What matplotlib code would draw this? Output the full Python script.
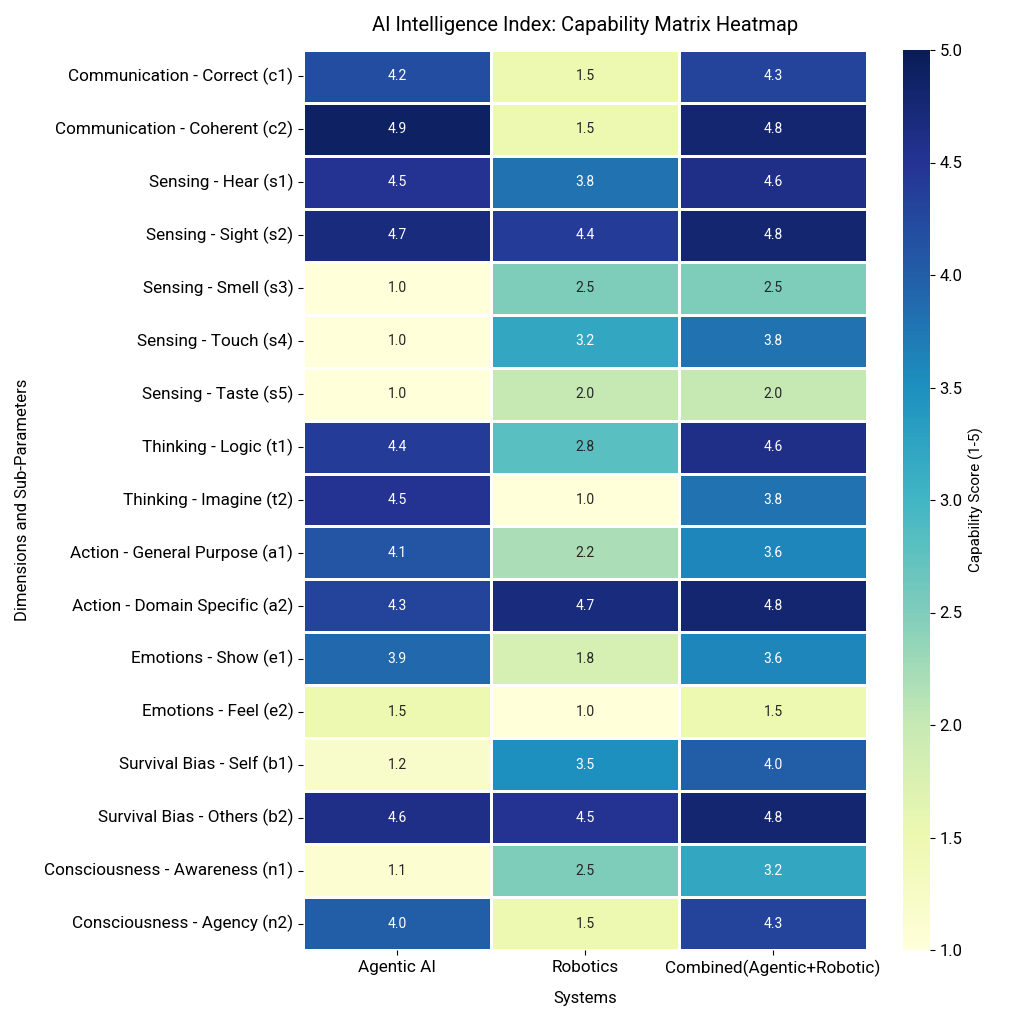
import matplotlib
matplotlib.use("Agg")
import matplotlib.pyplot as plt
import numpy as np
import seaborn as sns

plt.rcParams['font.family'] = ['Roboto', 'DejaVu Sans']

rows = [
    "Communication - Correct (c1)", "Communication - Coherent (c2)",
    "Sensing - Hear (s1)", "Sensing - Sight (s2)", "Sensing - Smell (s3)",
    "Sensing - Touch (s4)", "Sensing - Taste (s5)", "Thinking - Logic (t1)",
    "Thinking - Imagine (t2)", "Action - General Purpose (a1)",
    "Action - Domain Specific (a2)", "Emotions - Show (e1)", "Emotions - Feel (e2)",
    "Survival Bias - Self (b1)", "Survival Bias - Others (b2)",
    "Consciousness - Awareness (n1)", "Consciousness - Agency (n2)",
]
systems = ["Agentic AI", "Robotics", "Combined(Agentic+Robotic)"]
agentic = [4.2, 4.9, 4.5, 4.7, 1.0, 1.0, 1.0, 4.4, 4.5, 4.1, 4.3, 3.9, 1.5, 1.2, 4.6, 1.1, 4.0]
robotics = [1.5, 1.5, 3.8, 4.4, 2.5, 3.2, 2.0, 2.8, 1.0, 2.2, 4.7, 1.8, 1.0, 3.5, 4.5, 2.5, 1.5]
combined = [4.3, 4.8, 4.6, 4.8, 2.5, 3.8, 2.0, 4.6, 3.8, 3.6, 4.8, 3.6, 1.5, 4.0, 4.8, 3.2, 4.3]

data = np.array([agentic, robotics, combined]).T

fig = plt.figure(figsize=(10.24, 10.24), dpi=100)
ax = fig.add_axes([303/1024, 1-950/1024, (867-303)/1024, 900/1024])
cax = fig.add_axes([903/1024, 1-950/1024, 27/1024, 900/1024])

sns.heatmap(data, ax=ax, cbar_ax=cax, cmap="YlGnBu", vmin=1, vmax=5,
            annot=True, fmt=".1f", linewidths=0.8, linecolor="white",
            xticklabels=systems, yticklabels=rows,
            annot_kws={"fontsize": 10},
            cbar_kws={"label": "Capability Score (1-5)"})
ax.set_title("AI Intelligence Index: Capability Matrix Heatmap", fontsize=14.5, pad=14)
ax.set_xlabel("Systems", fontsize=12, labelpad=10)
ax.set_ylabel("Dimensions and Sub-Parameters", fontsize=12, labelpad=10)
ax.tick_params(axis='both', labelsize=12.3)
plt.setp(ax.get_yticklabels(), rotation=0)
plt.setp(ax.get_xticklabels(), rotation=0)
cax.tick_params(labelsize=12)
cax.yaxis.label.set_size(11)
cbar = ax.collections[0].colorbar
cbar.outline.set_visible(False)

fig.savefig("out.png", dpi=100)
